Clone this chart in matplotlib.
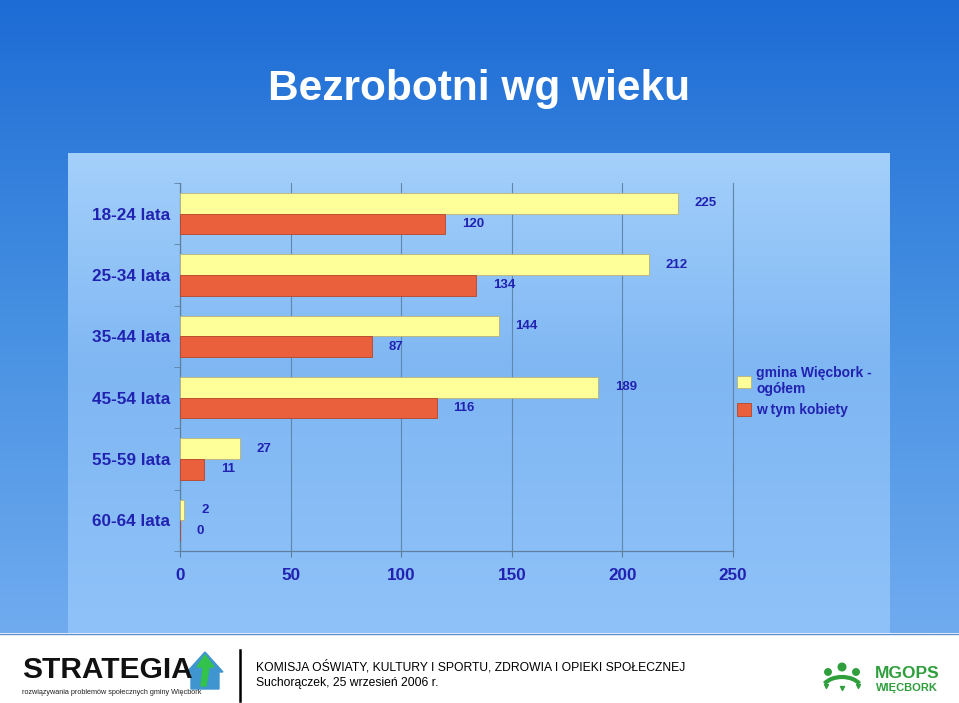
import numpy as np
import matplotlib
matplotlib.use("Agg")
import matplotlib.pyplot as plt
from matplotlib.patches import Polygon, Arc
from matplotlib.colors import to_rgb

# data
age_groups = ["18-24 lata", "25-34 lata", "35-44 lata", "45-54 lata", "55-59 lata", "60-64 lata"]
total = [225, 212, 144, 189, 27, 2]
women = [120, 134, 87, 116, 11, 0]
series_names = ["gmina Więcbork -\nogółem", "w tym kobiety"]
x_ticks = [0, 50, 100, 150, 200, 250]

W, H = 959, 703
plt.rcParams["font.family"] = ["Liberation Sans", "DejaVu Sans"]
blue_txt = "#2222b2"

fig = plt.figure(figsize=(W / 100, H / 100), dpi=100, facecolor="white")

# background in pixel coordinates
bg = fig.add_axes([0, 0, 1, 1], zorder=-10)
bg.set_xlim(0, W)
bg.set_ylim(H, 0)
bg.axis("off")


def vgrad(stops, n=256):
    pos = [p for p, _ in stops]
    cols = np.array([to_rgb(c) for _, c in stops])
    t = np.linspace(0, 1, n)
    arr = np.stack([np.interp(t, pos, cols[:, i]) for i in range(3)], axis=-1)
    return arr[:, None, :]


bg.imshow(vgrad([(0, "#1d6cd5"), (0.5, "#4690e2"), (1, "#70abef")]),
          extent=(0, W, 633, 0), aspect="auto", origin="upper", zorder=0)
bg.imshow(vgrad([(0, "#a4d0fb"), (0.45, "#7fb7f3"), (1, "#8fc2f8")]),
          extent=(68, 890, 633, 153), aspect="auto", origin="upper", zorder=1)
bg.plot([0, W], [633.5, 633.5], color="#5a8fd0", lw=1, zorder=2)

# title
fig.text(0.5, 1 - 100 / H, "Bezrobotni wg wieku", ha="center", va="baseline",
         fontsize=30.5, fontweight="bold", color="white")

# chart
ax = fig.add_axes([180 / W, 1 - 551 / H, (733 - 180) / W, (551 - 183) / H])
ax.patch.set_alpha(0)
y = np.arange(len(age_groups))
h = 0.335
b1 = ax.barh(y - h / 2, total, height=h, color="#ffff99", edgecolor="#b9b27a",
             linewidth=0.6, label=series_names[0], zorder=3)
b2 = ax.barh(y + h / 2, women, height=h, color="#ea603c", edgecolor="#b8452a",
             linewidth=0.6, label=series_names[1], zorder=3)
for bars in (b1, b2):
    ax.bar_label(bars, padding=12, fontsize=9.5, fontweight="bold", color=blue_txt)

ax.set_xlim(0, 250)
ax.set_ylim(len(age_groups) - 0.5, -0.5)
ax.set_yticks(y)
ax.set_yticklabels(age_groups)
ax.set_yticks(np.arange(len(age_groups) + 1) - 0.5, minor=True)
ax.tick_params(axis="y", which="major", length=0, pad=7, labelsize=12.3, labelcolor=blue_txt)
ax.tick_params(axis="y", which="minor", length=4, color="#5f7f9f")
for lab in ax.get_yticklabels():
    lab.set_fontweight("bold")
ax.set_xticks(x_ticks)
ax.tick_params(axis="x", length=4, color="#5f7f9f", pad=8, labelsize=12.3, labelcolor=blue_txt)
for lab in ax.get_xticklabels():
    lab.set_fontweight("bold")
ax.grid(axis="x", color="#5f86ad", linewidth=0.8, zorder=0)
ax.axvline(x_ticks[-1], color="#5f86ad", linewidth=0.8, zorder=0, clip_on=False)
for s in ("top", "right"):
    ax.spines[s].set_visible(False)
for s in ("left", "bottom"):
    ax.spines[s].set_color("#5f7f9f")
    ax.spines[s].set_linewidth(0.9)

leg = ax.legend(loc="upper left", bbox_to_anchor=(737 / W, 1 - 366 / H),
                bbox_transform=fig.transFigure, frameon=False, borderpad=0,
                borderaxespad=0, handlelength=1.0, handleheight=1.0,
                handletextpad=0.4, labelspacing=0.5,
                prop={"size": 10, "weight": "bold"})
for t in leg.get_texts():
    t.set_color(blue_txt)

# footer
fig.text(22 / W, 1 - 670 / H, "STRATEGIA", fontsize=21.5, fontweight="bold",
         color="#111111", va="center", ha="left")
fig.text(22 / W, 1 - 693 / H, "rozwiązywania problemów społecznych gminy Więcbork",
         fontsize=5.2, color="#222222", va="center", ha="left")
bg.add_patch(Polygon([(187, 672), (205, 652), (223, 672), (219, 672), (219, 689),
                      (191, 689), (191, 672)], closed=True, color="#3f95cf", zorder=3))
bg.add_patch(Polygon([(205, 655), (214, 667), (209, 667), (206, 686), (201, 686),
                      (203, 667), (197, 667)], closed=True, color="#33c24a", zorder=4))
bg.plot([240, 240], [650, 701], color="black", lw=1.8, zorder=3)

fig.text(256 / W, 1 - 667 / H,
         "KOMISJA OŚWIATY, KULTURY I SPORTU, ZDROWIA I OPIEKI SPOŁECZNEJ",
         fontsize=8.7, color="black", va="center", ha="left")
fig.text(256 / W, 1 - 683 / H, "Suchorączek, 25 wrzesień 2006 r.",
         fontsize=8.7, color="black", va="center", ha="left")

green = "#2f9e3c"
bg.scatter([828, 842, 856], [672, 667, 672], s=[22, 30, 22], color=green, zorder=4)
bg.add_patch(Arc((842, 690), 40, 26, theta1=200, theta2=340, color=green, lw=3, zorder=4))
bg.scatter([826, 842, 858], [686, 688, 686], s=8, marker="v", color=green, zorder=4)
fig.text(875 / W, 1 - 673 / H, "MGOPS", fontsize=12.5, fontweight="bold",
         color=green, va="center", ha="left")
fig.text(876 / W, 1 - 688 / H, "WIĘCBORK", fontsize=8, fontweight="bold",
         color=green, va="center", ha="left")

fig.savefig("out.png", dpi=100, facecolor="white")
